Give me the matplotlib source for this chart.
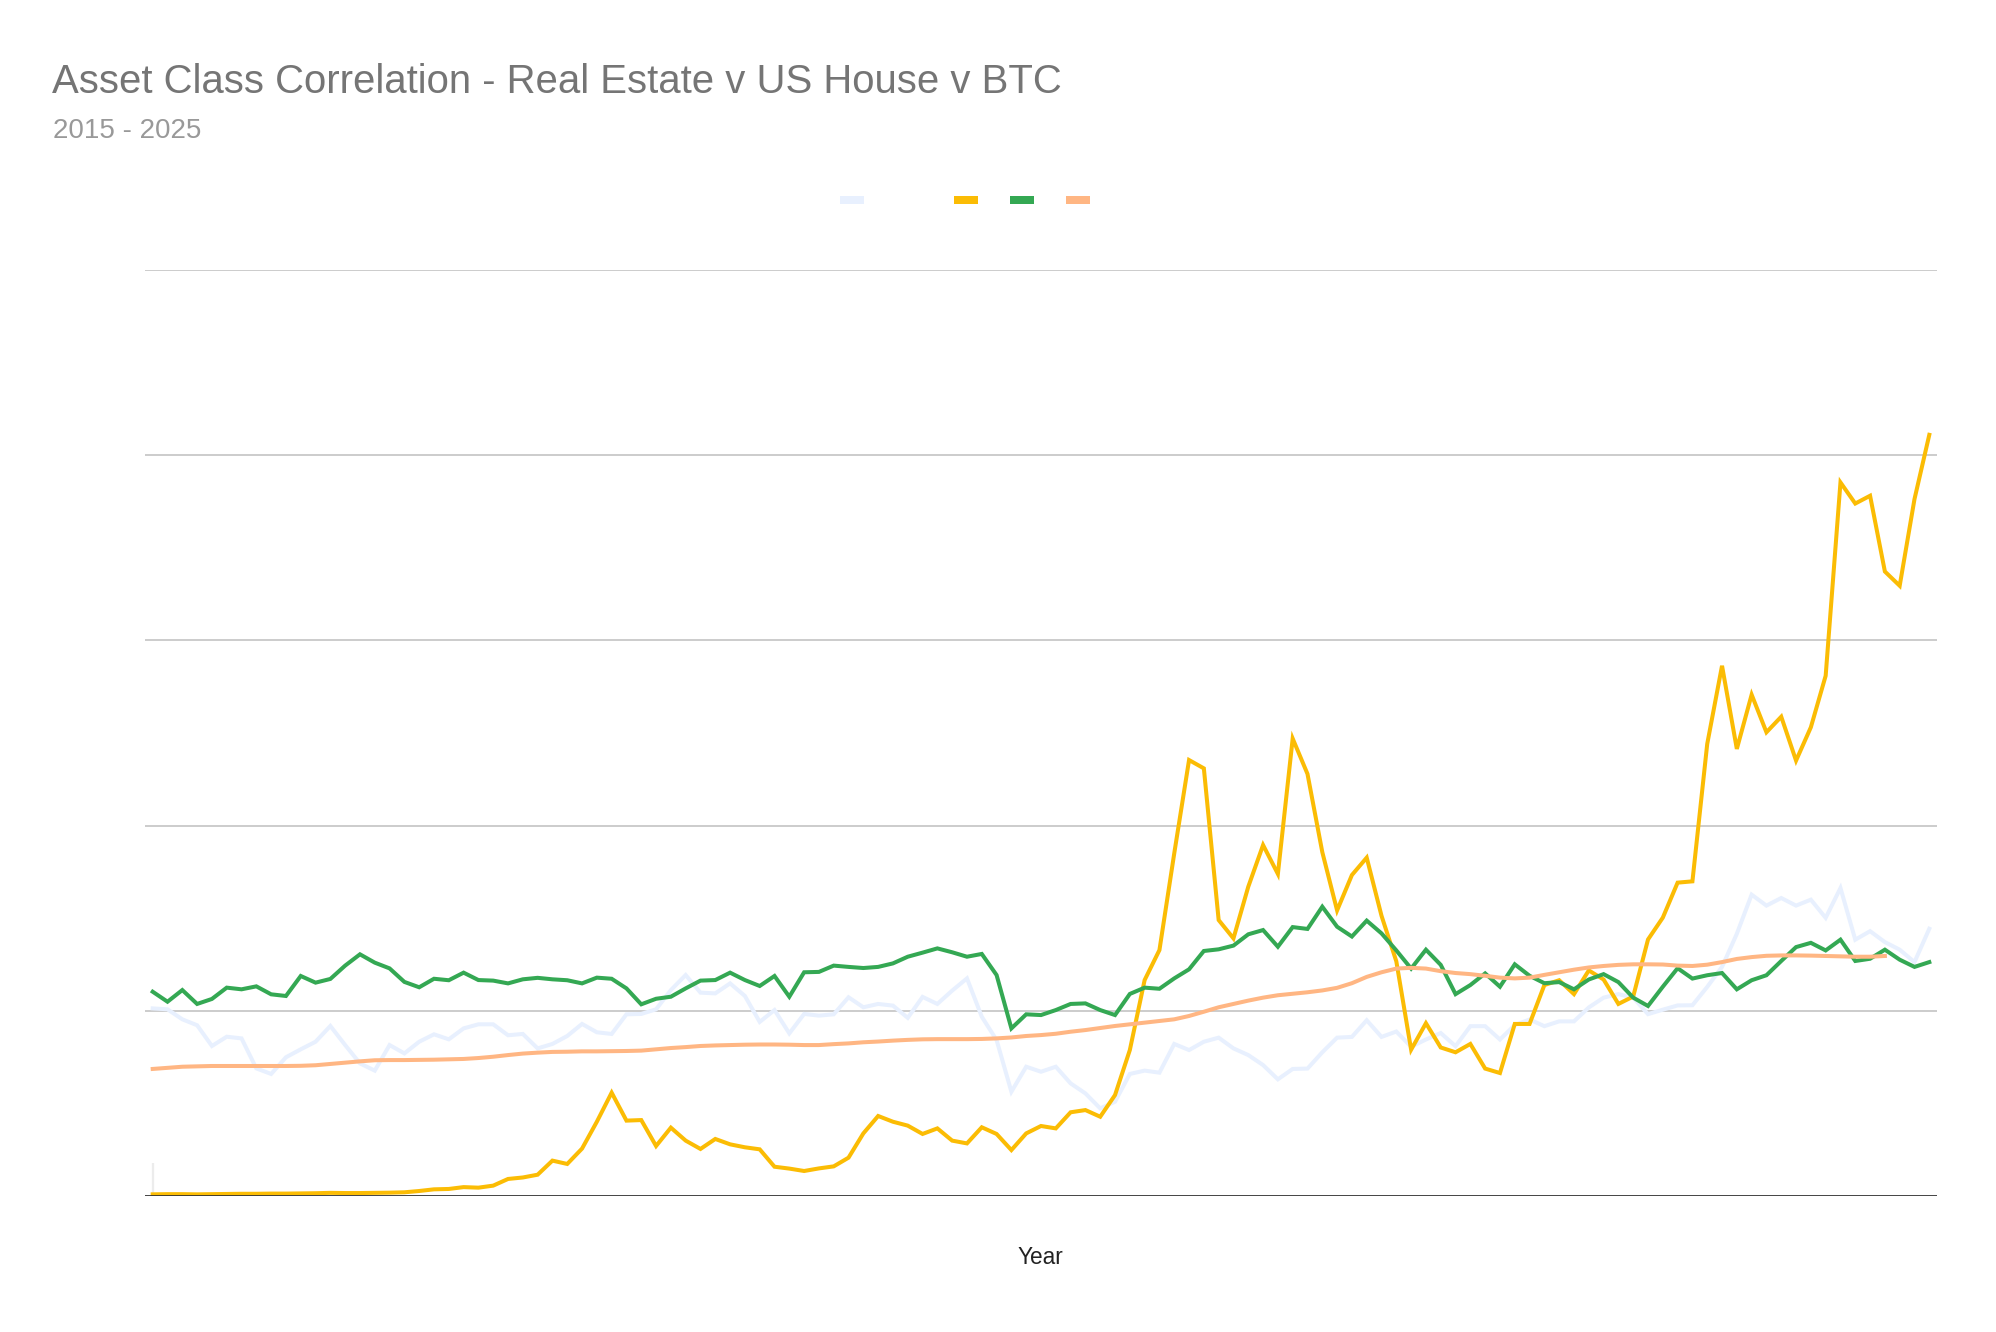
import matplotlib
matplotlib.use("Agg")
import matplotlib.pyplot as plt
from matplotlib.lines import Line2D
import numpy as np

plt.rcParams['font.family'] = ['Liberation Sans', 'DejaVu Sans']

title = "Asset Class Correlation - Real Estate v US House v BTC"
subtitle = "2015 - 2025"
x_label = "Year"
series_names = ["Real Estate", "", "", ""]

# Monthly observations, Jan 2015 .. Jan 2025 (index positions)
real_estate = [1.013, 1.008, 0.954, 0.922, 0.810, 0.860, 0.851, 0.689, 0.659, 0.749,
               0.792, 0.833, 0.918, 0.815, 0.716, 0.677, 0.815, 0.770, 0.833, 0.873,
               0.846, 0.905, 0.927, 0.927, 0.868, 0.875, 0.797, 0.821, 0.864, 0.929,
               0.884, 0.875, 0.981, 0.983, 1.008, 1.112, 1.193, 1.098, 1.094, 1.148,
               1.080, 0.940, 1.004, 0.878, 0.983, 0.974, 0.981, 1.073, 1.019, 1.037,
               1.028, 0.962, 1.075, 1.037, 1.109, 1.175, 0.968, 0.842, 0.563, 0.698,
               0.671, 0.698, 0.608, 0.554, 0.473, 0.509, 0.659, 0.677, 0.666, 0.821,
               0.788, 0.833, 0.855, 0.797, 0.761, 0.707, 0.630, 0.686, 0.688, 0.776,
               0.855, 0.859, 0.949, 0.859, 0.888, 0.806, 0.845, 0.880, 0.809, 0.917,
               0.917, 0.845, 0.923, 0.953, 0.917, 0.943, 0.943, 1.018, 1.071, 1.090,
               1.071, 0.982, 1.006, 1.029, 1.030, 1.129, 1.237, 1.416, 1.627, 1.568,
               1.609, 1.568, 1.600, 1.502, 1.663, 1.384, 1.430, 1.371, 1.330, 1.263,
               1.443]

btc = [0.009, 0.010, 0.010, 0.009, 0.010, 0.011, 0.012, 0.012, 0.013, 0.013,
       0.014, 0.015, 0.017, 0.016, 0.016, 0.017, 0.018, 0.020, 0.027, 0.036,
       0.038, 0.048, 0.045, 0.056, 0.092, 0.100, 0.115, 0.191, 0.173, 0.256,
       0.401, 0.558, 0.407, 0.410, 0.270, 0.369, 0.299, 0.254, 0.308, 0.279,
       0.263, 0.252, 0.158, 0.148, 0.135, 0.149, 0.160, 0.207, 0.338, 0.432,
       0.401, 0.380, 0.335, 0.365, 0.299, 0.284, 0.371, 0.335, 0.248, 0.338,
       0.378, 0.365, 0.452, 0.464, 0.428, 0.545, 0.788, 1.166, 1.328, 1.850,
       2.354, 2.309, 1.490, 1.391, 1.670, 1.895, 1.739, 2.470, 2.279, 1.857,
       1.542, 1.733, 1.827, 1.513, 1.267, 0.790, 0.933, 0.802, 0.776, 0.821,
       0.688, 0.664, 0.929, 0.929, 1.139, 1.165, 1.090, 1.218, 1.169, 1.037,
       1.077, 1.385, 1.503, 1.692, 1.699, 2.441, 2.863, 2.414, 2.707, 2.504,
       2.588, 2.351, 2.531, 2.809, 3.853, 3.739, 3.781, 3.372, 3.295, 3.763,
       4.110]

reit = [1.103, 1.049, 1.112, 1.037, 1.064, 1.125, 1.116, 1.132, 1.089, 1.080,
        1.188, 1.152, 1.172, 1.244, 1.305, 1.260, 1.229, 1.156, 1.127, 1.173,
        1.165, 1.206, 1.166, 1.163, 1.148, 1.170, 1.178, 1.170, 1.165, 1.148,
        1.179, 1.173, 1.121, 1.035, 1.065, 1.076, 1.121, 1.163, 1.166, 1.206,
        1.166, 1.134, 1.188, 1.076, 1.208, 1.210, 1.244, 1.237, 1.231, 1.237,
        1.256, 1.292, 1.314, 1.337, 1.316, 1.292, 1.307, 1.193, 0.905, 0.981,
        0.977, 1.004, 1.037, 1.040, 1.004, 0.977, 1.091, 1.125, 1.119, 1.175,
        1.224, 1.323, 1.332, 1.352, 1.413, 1.436, 1.346, 1.452, 1.442, 1.562,
        1.454, 1.401, 1.487, 1.418, 1.326, 1.228, 1.330, 1.248, 1.090, 1.139,
        1.202, 1.130, 1.251, 1.189, 1.149, 1.155, 1.116, 1.169, 1.198, 1.155,
        1.071, 1.026, 1.130, 1.230, 1.174, 1.192, 1.204, 1.116, 1.165, 1.192,
        1.269, 1.344, 1.367, 1.326, 1.384, 1.269, 1.281, 1.330, 1.276, 1.237,
        1.263]

us_house = [0.686, 0.692, 0.698, 0.700, 0.702, 0.702, 0.702, 0.702, 0.702, 0.702,
            0.703, 0.706, 0.713, 0.720, 0.727, 0.733, 0.734, 0.734, 0.735, 0.736,
            0.738, 0.740, 0.745, 0.752, 0.761, 0.769, 0.774, 0.778, 0.779, 0.781,
            0.781, 0.782, 0.783, 0.785, 0.792, 0.799, 0.804, 0.810, 0.813, 0.815,
            0.817, 0.818, 0.818, 0.817, 0.815, 0.815, 0.820, 0.824, 0.830, 0.834,
            0.839, 0.843, 0.846, 0.847, 0.847, 0.847, 0.848, 0.851, 0.856, 0.864,
            0.869, 0.876, 0.887, 0.896, 0.907, 0.918, 0.927, 0.936, 0.945, 0.954,
            0.972, 0.995, 1.019, 1.037, 1.055, 1.071, 1.084, 1.092, 1.100, 1.110,
            1.124, 1.149, 1.183, 1.208, 1.228, 1.232, 1.228, 1.214, 1.204, 1.198,
            1.189, 1.179, 1.175, 1.179, 1.194, 1.208, 1.222, 1.234, 1.242, 1.248,
            1.251, 1.251, 1.250, 1.244, 1.242, 1.249, 1.263, 1.280, 1.290, 1.297,
            1.299, 1.299, 1.298, 1.296, 1.294, 1.292, 1.292, 1.296]

start_stub = 0.178
grid_values = [1, 2, 3, 4, 5]

colors = ["#e8f0fe", "#fbbc04", "#34a853", "#ffb683"]

W, H = 1996, 1332
fig = plt.figure(figsize=(W / 100, H / 100), dpi=100)
fig.patch.set_facecolor("white")

left_px, right_px, top_px, bottom_px = 145, 1937, 270, 1196
ax = fig.add_axes([left_px / W, 1 - bottom_px / H,
                   (right_px - left_px) / W, (bottom_px - top_px) / H])
ax.set_facecolor("white")

n = len(real_estate)
x = np.arange(n)
pad = 7.7 / 14.805
ax.set_xlim(-pad, n - 1 + pad)
ax.set_ylim(0, 5)

for g in grid_values:
    ax.axhline(g, color="#c8c8c8", lw=1.3, zorder=0)

lw = 2.9
ax.vlines(x[0], 0, start_stub, color="#ececec", lw=1.6, zorder=1)
ax.plot(x, real_estate, color=colors[0], lw=lw, zorder=2, solid_joinstyle="miter")
ax.plot(x, btc, color=colors[1], lw=lw, zorder=3, solid_joinstyle="miter")
ax.plot(x, reit, color=colors[2], lw=lw, zorder=4, solid_joinstyle="miter")
ax.plot(x[:len(us_house)], us_house, color=colors[3], lw=lw, zorder=5,
        solid_joinstyle="round")
ax.axhline(0, color="#333333", lw=2.0, zorder=6)

for s in ax.spines.values():
    s.set_visible(False)
ax.set_xticks([])
ax.set_yticks([])

fig.text(52 / W, 1 - 92.7 / H, title, fontsize=28.9, color="#757575",
         ha="left", va="baseline")
fig.text(53 / W, 1 - 138.3 / H, subtitle, fontsize=20, color="#999999",
         ha="left", va="baseline")
fig.text(1040 / W, 1 - 1264 / H, x_label, fontsize=16.3, color="#222222",
         ha="center", va="baseline")

handles = [Line2D([0], [0], color=c, lw=5.76, solid_capstyle="butt") for c in colors]
leg = fig.legend(handles, series_names, loc="center",
                 bbox_to_anchor=(967 / W, 1 - 200.7 / H), ncol=4, frameon=False,
                 fontsize=8, handlelength=2.16, handletextpad=0.4,
                 columnspacing=2.49, borderpad=0, borderaxespad=0)
for t in leg.get_texts():
    t.set_color("white")

fig.savefig("out.png", dpi=100, facecolor="white")
